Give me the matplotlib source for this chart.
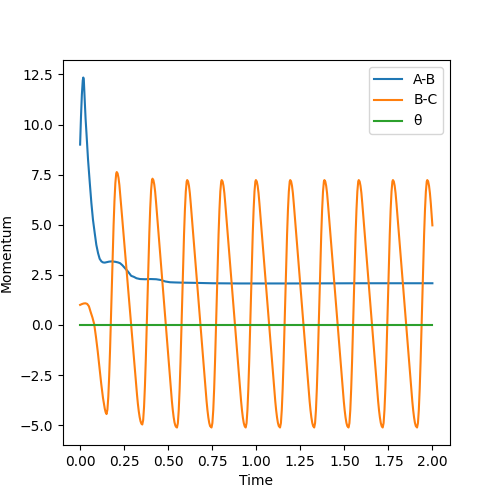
import matplotlib
matplotlib.use("Agg")
import matplotlib.pyplot as plt

# A-B momentum
ab_time = [0.000, 0.005, 0.010, 0.015, 0.018, 0.021, 0.026, 0.031, 0.036, 0.045,
           0.055, 0.064, 0.073, 0.083, 0.092, 0.102, 0.111, 0.121, 0.130, 0.140,
           0.150, 0.165, 0.180, 0.200, 0.215, 0.227, 0.240, 0.255, 0.271, 0.290,
           0.305, 0.320, 0.340, 0.369, 0.400, 0.432, 0.460, 0.483, 0.510, 0.540,
           0.580, 0.650, 0.750, 0.900, 1.200, 1.600, 2.000]
ab_momentum = [9.00, 10.40, 11.50, 12.20, 12.35, 12.25, 11.25, 10.30, 9.58, 8.25,
               7.08, 6.08, 5.25, 4.58, 4.00, 3.58, 3.30, 3.17, 3.12, 3.11,
               3.13, 3.16, 3.17, 3.15, 3.12, 3.08, 2.98, 2.83, 2.67, 2.45,
               2.40, 2.33, 2.29, 2.28, 2.29, 2.28, 2.24, 2.17, 2.13, 2.12,
               2.11, 2.10, 2.08, 2.07, 2.07, 2.08, 2.08]

# B-C momentum, one line per rise / fall of the oscillation
bc_time = [
    0.000, 0.010, 0.020, 0.030, 0.040, 0.050, 0.060, 0.070, 0.080, 0.090, 0.100, 0.110, 0.120, 0.130, 0.140, 0.145, 0.150,
    0.155, 0.160, 0.165, 0.170, 0.175, 0.180, 0.185, 0.190, 0.195, 0.200, 0.205, 0.208,
    0.213, 0.218, 0.223, 0.228, 0.238, 0.248, 0.258, 0.268, 0.278, 0.288, 0.298, 0.308, 0.318, 0.323, 0.328, 0.333, 0.338, 0.343, 0.348, 0.353,
    0.358, 0.363, 0.368, 0.373, 0.378, 0.383, 0.388, 0.393, 0.398, 0.403, 0.408, 0.411,
    0.416, 0.421, 0.426, 0.431, 0.441, 0.451, 0.461, 0.471, 0.481, 0.491, 0.501, 0.511, 0.521, 0.526, 0.531, 0.536, 0.541, 0.546, 0.550,
    0.555, 0.560, 0.565, 0.570, 0.575, 0.580, 0.585, 0.590, 0.595, 0.600, 0.605, 0.608,
    0.613, 0.618, 0.623, 0.628, 0.638, 0.648, 0.658, 0.668, 0.678, 0.688, 0.698, 0.708, 0.718, 0.723, 0.728, 0.733, 0.738, 0.746,
    0.751, 0.756, 0.761, 0.766, 0.771, 0.776, 0.781, 0.786, 0.791, 0.796, 0.801, 0.804,
    0.809, 0.814, 0.819, 0.824, 0.834, 0.844, 0.854, 0.864, 0.874, 0.884, 0.894, 0.904, 0.914, 0.919, 0.924, 0.929, 0.934, 0.940,
    0.945, 0.950, 0.955, 0.960, 0.965, 0.970, 0.975, 0.980, 0.985, 0.990, 0.995, 0.998,
    1.003, 1.008, 1.013, 1.018, 1.028, 1.038, 1.048, 1.058, 1.068, 1.078, 1.088, 1.098, 1.108, 1.113, 1.118, 1.123, 1.128, 1.135,
    1.140, 1.145, 1.150, 1.155, 1.160, 1.165, 1.170, 1.175, 1.180, 1.185, 1.190, 1.193,
    1.198, 1.203, 1.208, 1.213, 1.223, 1.233, 1.243, 1.253, 1.263, 1.273, 1.283, 1.293, 1.303, 1.308, 1.313, 1.318, 1.323, 1.329,
    1.334, 1.339, 1.344, 1.349, 1.354, 1.359, 1.364, 1.369, 1.374, 1.379, 1.384, 1.387,
    1.392, 1.397, 1.402, 1.407, 1.417, 1.427, 1.437, 1.447, 1.457, 1.467, 1.477, 1.487, 1.497, 1.502, 1.507, 1.512, 1.517, 1.524,
    1.529, 1.534, 1.539, 1.544, 1.549, 1.554, 1.559, 1.564, 1.569, 1.574, 1.579, 1.582,
    1.587, 1.592, 1.597, 1.602, 1.612, 1.622, 1.632, 1.642, 1.652, 1.662, 1.672, 1.682, 1.692, 1.697, 1.702, 1.707, 1.712, 1.718,
    1.723, 1.728, 1.733, 1.738, 1.743, 1.748, 1.753, 1.758, 1.763, 1.768, 1.773, 1.776,
    1.781, 1.786, 1.791, 1.796, 1.806, 1.816, 1.826, 1.836, 1.846, 1.856, 1.866, 1.876, 1.886, 1.891, 1.896, 1.901, 1.906, 1.913,
    1.918, 1.923, 1.928, 1.933, 1.938, 1.943, 1.948, 1.953, 1.958, 1.963, 1.968, 1.971,
    1.976, 1.981, 1.986, 1.991, 2.000,
]
bc_momentum = [
    1.00, 1.04, 1.07, 1.08, 1.05, 0.93, 0.64, 0.37, 0.04, -0.60, -1.32, -2.15, -2.95, -3.65, -4.18, -4.36, -4.45,
    -4.23, -3.59, -2.56, -1.24, 0.29, 1.92, 3.52, 4.97, 6.18, 7.07, 7.56, 7.63,
    7.56, 7.34, 6.98, 6.48, 5.43, 4.38, 3.33, 2.28, 1.23, 0.18, -0.87, -1.92, -2.97, -3.48, -3.94, -4.31, -4.60, -4.81, -4.93, -4.97,
    -4.75, -4.09, -3.05, -1.71, -0.15, 1.50, 3.13, 4.60, 5.83, 6.73, 7.23, 7.30,
    7.23, 7.01, 6.65, 6.14, 5.04, 3.93, 2.82, 1.71, 0.60, -0.51, -1.62, -2.72, -3.80, -4.24, -4.60, -4.87, -5.03, -5.10, -5.12,
    -4.90, -4.24, -3.19, -1.84, -0.27, 1.39, 3.03, 4.52, 5.75, 6.66, 7.16, 7.23,
    7.16, 6.94, 6.58, 6.07, 4.98, 3.88, 2.78, 1.68, 0.58, -0.52, -1.62, -2.72, -3.81, -4.26, -4.62, -4.89, -5.05, -5.12,
    -4.90, -4.24, -3.19, -1.84, -0.27, 1.39, 3.03, 4.52, 5.75, 6.66, 7.16, 7.23,
    7.16, 6.94, 6.58, 6.07, 4.98, 3.88, 2.78, 1.68, 0.58, -0.52, -1.62, -2.72, -3.81, -4.26, -4.62, -4.89, -5.05, -5.12,
    -4.90, -4.24, -3.19, -1.84, -0.27, 1.39, 3.03, 4.52, 5.75, 6.66, 7.16, 7.23,
    7.16, 6.94, 6.58, 6.07, 4.98, 3.88, 2.78, 1.68, 0.58, -0.52, -1.62, -2.72, -3.81, -4.26, -4.62, -4.89, -5.05, -5.12,
    -4.90, -4.24, -3.19, -1.84, -0.27, 1.39, 3.03, 4.52, 5.75, 6.66, 7.16, 7.23,
    7.16, 6.94, 6.58, 6.07, 4.98, 3.88, 2.78, 1.68, 0.58, -0.52, -1.62, -2.72, -3.81, -4.26, -4.62, -4.89, -5.05, -5.12,
    -4.90, -4.24, -3.19, -1.84, -0.27, 1.39, 3.03, 4.52, 5.75, 6.66, 7.16, 7.23,
    7.16, 6.94, 6.58, 6.07, 4.98, 3.88, 2.78, 1.68, 0.58, -0.52, -1.62, -2.72, -3.81, -4.26, -4.62, -4.89, -5.05, -5.12,
    -4.90, -4.24, -3.19, -1.84, -0.27, 1.39, 3.03, 4.52, 5.75, 6.66, 7.16, 7.23,
    7.16, 6.94, 6.58, 6.07, 4.98, 3.88, 2.78, 1.68, 0.58, -0.52, -1.62, -2.72, -3.81, -4.26, -4.62, -4.89, -5.05, -5.12,
    -4.90, -4.24, -3.19, -1.84, -0.27, 1.39, 3.03, 4.52, 5.75, 6.66, 7.16, 7.23,
    7.16, 6.94, 6.58, 6.07, 4.98, 3.88, 2.78, 1.68, 0.58, -0.52, -1.62, -2.72, -3.81, -4.26, -4.62, -4.89, -5.05, -5.12,
    -4.90, -4.24, -3.19, -1.84, -0.27, 1.39, 3.03, 4.52, 5.75, 6.66, 7.16, 7.23,
    7.16, 6.94, 6.58, 6.07, 4.97,
]

# theta stays at zero the whole run
theta_time = [0.0, 2.0]
theta = [0.0, 0.0]

labels = ["A-B", "B-C", "θ"]

fig, ax = plt.subplots(figsize=(5, 5), dpi=100)
ax.plot(ab_time, ab_momentum, label=labels[0])
ax.plot(bc_time, bc_momentum, label=labels[1])
ax.plot(theta_time, theta, label=labels[2])

ax.set_xlabel("Time")
ax.set_ylabel("Momentum")
ax.legend()

fig.savefig("out.png")
